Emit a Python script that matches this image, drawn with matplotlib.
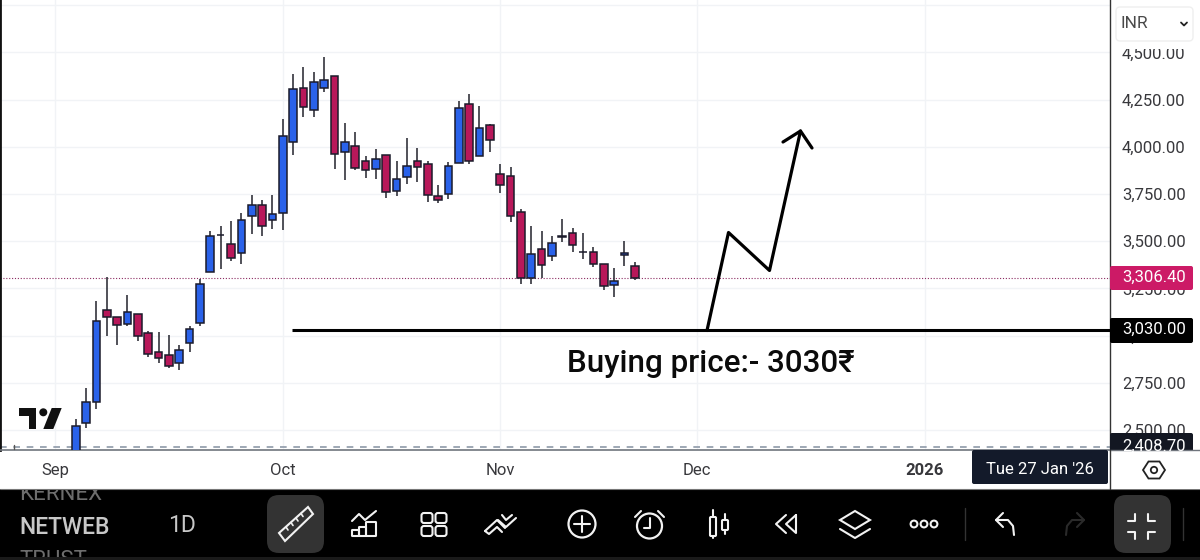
import matplotlib
matplotlib.use("Agg")
import matplotlib.pyplot as plt
from matplotlib.patches import Circle, FancyBboxPatch, Polygon, Rectangle

# daily candles, Sep 2025 onwards
opens = [2380, 2535, 2646, 3133, 3098, 3059, 3116, 3013, 2913, 2899, 2856, 2960, 3068, 3336, 3534,
         3486, 3435, 3631, 3694, 3613, 3647, 4026, 4312, 4195, 4313, 4377, 3973, 4005, 3924, 3885,
         3954, 3765, 3839, 3927, 3910, 3742, 3751, 3915, 4225, 3952, 4118, 3857, 3843, 3657, 3303,
         3458, 3419, 3525, 3545, 3444, 3444, 3380, 3266, 3426, 3368]
highs = [2560, 2722, 3181, 3310, 3098, 3216, 3116, 3026, 3020, 3004, 2950, 3052, 3301, 3555, 3581,
         3606, 3648, 3744, 3717, 3745, 4146, 4386, 4423, 4396, 4474, 4377, 4125, 4079, 3949, 3986,
         3954, 3927, 4049, 3996, 3924, 3799, 3917, 4240, 4282, 4217, 4123, 3908, 3894, 3668, 3578,
         3553, 3530, 3620, 3569, 3541, 3467, 3380, 3359, 3499, 3388]
lows = [2350, 2511, 2613, 2996, 2948, 3049, 2973, 2888, 2855, 2828, 2819, 2915, 3049, 3336, 3354,
        3396, 3378, 3539, 3525, 3565, 3557, 3954, 4158, 4160, 4290, 3880, 3822, 3878, 3836, 3827,
        3730, 3740, 3804, 3816, 3709, 3703, 3726, 3913, 3908, 3952, 3973, 3753, 3603, 3273, 3273,
        3306, 3395, 3497, 3444, 3407, 3365, 3243, 3206, 3370, 3292]
closes = [2523, 2646, 3075, 3101, 3056, 3126, 2996, 2900, 2879, 2840, 2923, 3033, 3274, 3530, 3532,
          3412, 3610, 3692, 3581, 3643, 4056, 4306, 4209, 4342, 4356, 3961, 4028, 3889, 3878, 3933,
          3762, 3832, 3896, 3894, 3744, 3716, 3896, 4206, 3926, 4102, 4037, 3799, 3631, 3303, 3432,
          3373, 3493, 3521, 3478, 3441, 3379, 3261, 3287, 3437, 3306]

price_ticks = [2500, 2750, 3000, 3250, 3500, 3750, 4000, 4250, 4500]
month_pos = [-2, 20, 41, 60, 82]
month_labels = ["Sep", "Oct", "Nov", "Dec", "2026"]
last_price = 3306.40
buy_price = 3030
low_price = 2408.70

BLUE = "#2a62ea"
RED = "#b8185a"
EDGE = "#1b1b2b"
GRID = "#f1f3f6"
WHITE = "#f2f2f2"

plt.rcParams["font.family"] = ["Roboto", "DejaVu Sans"]
fig = plt.figure(figsize=(12, 5.6), dpi=100, facecolor="white")

ax = fig.add_axes([0, 110 / 560, 1110 / 1200, 450 / 560])
ax.set_xlim(-7.31, 99.9)
ax.set_ylim(2394, 4777.5)
ax.set_axisbelow(True)
ax.grid(True, color=GRID, linewidth=1)
ax.axhline(4750, color=GRID, linewidth=1, zorder=0)

ax.yaxis.tick_right()
ax.set_yticks(price_ticks)
ax.set_yticklabels([f"{p:,.2f}" for p in price_ticks], fontsize=12, color="#38383c")
ax.set_xticks(month_pos)
ax.set_xticklabels(month_labels, fontsize=12, color="#38383c")
ax.get_xticklabels()[-1].set_fontweight("bold")
ax.tick_params(axis="y", length=0, pad=8.5)
ax.tick_params(axis="x", length=0, pad=9.5)
ax.spines["top"].set_visible(False)
ax.spines["left"].set_linewidth(2)
ax.spines["left"].set_color("#111111")
ax.spines["right"].set_linewidth(1)
ax.spines["right"].set_color("#333333")
ax.spines["bottom"].set_linewidth(1.2)
ax.spines["bottom"].set_color("#70757d")

for i in range(len(opens)):
    up = closes[i] >= opens[i]
    ax.vlines(i, lows[i], highs[i], color="#33343c", linewidth=1.2, zorder=2)
    ax.bar(i, abs(closes[i] - opens[i]), bottom=min(opens[i], closes[i]), width=0.74,
           color=BLUE if up else RED, edgecolor=EDGE, linewidth=1.1, zorder=3)

ax.axhline(last_price, color="#8c2c62", linewidth=0.8, linestyle=(0, (1, 1.6)), zorder=1)
ax.axhline(low_price, color="#8e99a8", linewidth=1.2, linestyle=(0, (4, 4)), zorder=1)
ax.hlines(buy_price, 20.9, 99.9, color="black", linewidth=2.2, zorder=4)

# overlay in screen pixels for the hand drawn bits and the app chrome
ov = fig.add_axes([0, 0, 1, 1], facecolor="none")
ov.set_xlim(0, 1200)
ov.set_ylim(560, 0)
ov.axis("off")


def line(xs, ys, color=WHITE, lw=1.5, z=8):
    ov.plot(xs, ys, color=color, linewidth=lw, zorder=z, solid_capstyle="round", solid_joinstyle="round")


def box(x, y, w, h, color, z=6, r=2, edge="none"):
    ov.add_patch(FancyBboxPatch((x + r, y + r), w - 2 * r, h - 2 * r, boxstyle=f"round,pad={r}",
                                facecolor=color, edgecolor=edge, linewidth=1, zorder=z))


def outline(x, y, w, h, r=1.5, lw=1.5):
    ov.add_patch(FancyBboxPatch((x + r, y + r), w - 2 * r, h - 2 * r, boxstyle=f"round,pad={r}",
                                facecolor="none", edgecolor=WHITE, linewidth=lw, zorder=8))


# hand drawn arrow
line([707, 728.5, 769.5, 800.5], [330.5, 232.5, 270.5, 131], color="black", lw=2.3, z=5)
line([783, 800.5, 812], [142, 131, 148], color="black", lw=2.3, z=5)
ov.text(711, 364, "Buying price:- 3030₹", fontsize=22.6, fontweight="medium", color="#0b0b0b",
        ha="center", va="center", zorder=5)

# tradingview logo
ov.add_patch(Polygon([(18.5, 408), (36, 408), (36, 429), (28.5, 429), (28.5, 416), (18.5, 416)],
                     facecolor="#111111", zorder=5))
ov.add_patch(Circle((43.3, 412.3), 4, facecolor="#111111", zorder=5))
ov.add_patch(Polygon([(51.7, 408), (61.7, 408), (53.3, 429), (43.3, 429)], facecolor="#111111", zorder=5))
line([14, 14], [445, 449], color="#555555", lw=1, z=5)

# price scale labels
box(1110, 266, 83, 24, "#cc1a66")
ov.text(1154, 277.5, "3,306.40", color="white", fontsize=12, ha="center", va="center", zorder=7)
box(1110, 318, 83, 25, "black")
ov.text(1154, 329.5, "3,030.00", color="white", fontsize=12, ha="center", va="center", zorder=7)
box(1110, 433, 83, 30, "#131722")
ov.text(1154, 446, "2,408.70", color="white", fontsize=12, ha="center", va="center", zorder=7)
box(1116, 7, 77, 34, "white", edge="#efefef", r=4)
ov.add_patch(Rectangle((1112, 41.5), 84, 7.5, facecolor="white", zorder=6))
ov.text(1120, 24, "INR", color="#4a4a4a", fontsize=12.5, ha="left", va="center", zorder=7)
line([1181, 1184, 1187], [22.5, 25.5, 22.5], color="#222222", lw=1.3)

# bottom strip of the chart
ov.add_patch(Rectangle((1110, 450), 90, 39, facecolor="white", zorder=6.5))
line([1110, 1200], [450, 450], color="#70757d", lw=1, z=6.6)
line([1109.5, 1109.5], [450, 489], color="#333333", lw=1, z=6.6)
box(972, 450, 136, 34, "#131a2a", z=6.6)
ov.text(1040, 470, "Tue 27 Jan '26", color="white", fontsize=12, ha="center", va="center", zorder=7)
ov.add_patch(Polygon([(1143, 470), (1148.5, 461.5), (1159.5, 461.5), (1165, 470), (1159.5, 478.5), (1148.5, 478.5)],
                     closed=True, facecolor="none", edgecolor="#222222", linewidth=1.3, zorder=8))
ov.add_patch(Circle((1154, 470), 3.2, facecolor="none", edgecolor="#222222", linewidth=1.3, zorder=8))

# black toolbar
bar_rect = Rectangle((0, 489), 1200, 68, facecolor="black", zorder=6)
ov.add_patch(bar_rect)
ov.add_patch(Rectangle((0, 557), 1200, 3, facecolor="#1a1a1a", zorder=6))
line([0, 1200], [488.5, 488.5], color="#777777", lw=0.8, z=6.2)
# neighbours in the symbol wheel are cut off by the toolbar edges
kernex = ov.text(19, 494, "KERNEX", color="#6d6d6d", fontsize=16, ha="left", va="center", zorder=6.1)
trust = ov.text(19, 561, "TRUST", color="#6d6d6d", fontsize=16, ha="left", va="center", zorder=6.1)
for t in (kernex, trust):
    t.set_clip_on(True)
    t.set_clip_path(bar_rect)
ov.text(19, 527, "NETWEB", color="#c8c8c8", fontsize=16.5, fontweight="medium", ha="left", va="center", zorder=7)
ov.text(168, 525, "1D", color="#c8c8c8", fontsize=16.5, ha="left", va="center", zorder=7)
box(267, 495, 57, 58, "#333333", r=12)
box(1114, 495, 57, 58, "#333333", r=12)

# ruler
ov.add_patch(Polygon([(279, 533), (308, 507), (313, 514), (285, 541)], closed=True, facecolor="none",
                     edgecolor=WHITE, linewidth=1.5, zorder=8))
for tx, ty in [(286, 527), (291, 522.5), (296, 518), (301, 513.5)]:
    line([tx, tx + 2], [ty, ty + 3], lw=1.2)

# indicators icon
line([352, 359, 365, 376], [521, 514, 520, 511])
outline(352, 530, 7, 6, r=0.5)
outline(359, 527, 7, 9, r=0.5)
outline(366, 522, 10, 14, r=0.5)

# templates icon
for gx in [421.5, 435.5]:
    for gy in [513, 526]:
        outline(gx, gy, 11, 10, r=2.5)

# trend icon
line([485, 497, 505], [531, 520, 528])
line([485, 489, 497, 502], [531, 534, 527, 532])
line([498, 506, 516], [520, 527, 518])
line([502, 506, 512], [515, 520, 515])

# add
ov.add_patch(Circle((582, 524), 13.5, facecolor="none", edgecolor=WHITE, linewidth=1.6, zorder=8))
line([574, 590], [524, 524])
line([582, 582], [516, 532])

# alarm
ov.add_patch(Circle((649.5, 526), 12.5, facecolor="none", edgecolor=WHITE, linewidth=1.6, zorder=8))
line([649.5, 649.5, 643.5], [518, 528, 528])
line([635, 641], [517, 511])
line([658, 664], [511, 517])

# candle type
outline(710, 517, 6, 19, r=1)
line([713, 713], [510, 517])
line([713, 713], [536, 538])
outline(722, 520, 6, 10, r=1)
line([725, 725], [514, 520])
line([725, 725], [530, 534])

# rewind
line([786, 776, 786], [515, 524, 533])
line([796, 786, 796, 796], [515, 524, 533, 515])

# layers
ov.add_patch(Polygon([(855, 511), (870, 520), (855, 529), (840, 520)], closed=True, facecolor="none",
                     edgecolor=WHITE, linewidth=1.5, zorder=8))
line([840, 855, 870], [529, 538, 529])

# more
for dx in [914, 924, 934]:
    ov.add_patch(Circle((dx, 524), 3.4, facecolor="none", edgecolor=WHITE, linewidth=1.5, zorder=8))

line([965, 965], [508, 540], color="#333333", lw=1)
line([1183, 1183], [508, 540], color="#333333", lw=1)

# undo and redo
line([1003, 996, 1003], [513, 520, 527])
line([996, 1008, 1013, 1014], [520, 520, 526, 535])
line([1077, 1084, 1077], [513, 520, 527], color="#2a2a2a")
line([1084, 1072, 1067, 1066], [520, 520, 526, 535], color="#2a2a2a")

# collapse
line([1128, 1135, 1135], [521, 521, 514])
line([1148, 1148, 1155], [514, 521, 521])
line([1128, 1135, 1135], [532, 532, 539])
line([1155, 1148, 1148], [532, 532, 539])

fig.savefig("out.png", dpi=100)
